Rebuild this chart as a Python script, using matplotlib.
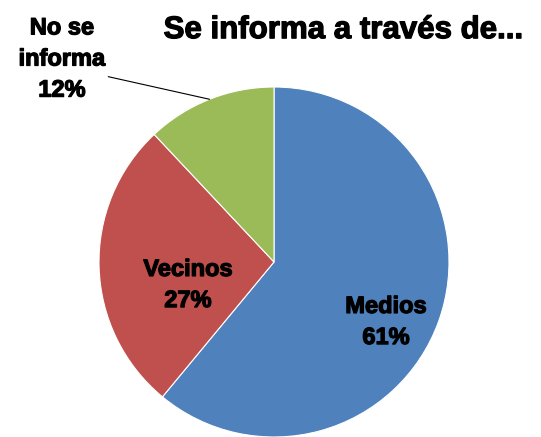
import numpy as np
import matplotlib.pyplot as plt
import matplotlib.patheffects as pe

# Datos del gráfico
categorias = ['Medios', 'Vecinos', 'No se\ninforma']
valores = [61, 27, 12]
colores = ['#4F81BD', '#C0504D', '#9BBB59']

plt.rcParams['font.family'] = ['Liberation Sans', 'DejaVu Sans']

fig = plt.figure(figsize=(5.41, 4.37), dpi=100)
ax = fig.add_axes([0, 0, 1, 1])

centro = (274, 175)
radio = 175
wedges, _ = ax.pie(valores, colors=colores, startangle=90, counterclock=False,
                   center=centro, radius=radio,
                   wedgeprops=dict(edgecolor='white', linewidth=0.8))
ax.set_xlim(0, 541)
ax.set_ylim(0, 437)
ax.set_aspect('equal')
ax.axis('off')

grueso = [pe.withStroke(linewidth=0.9, foreground='black')]
estilo = dict(fontsize=17, fontweight='bold', ha='center', va='center',
              linespacing=1.45, color='black', path_effects=grueso)

# Etiquetas dentro de las porciones
pos_etiquetas = [(386, 115), (188, 152)]
for cat, v, (x, y) in zip(categorias[:2], valores[:2], pos_etiquetas):
    ax.text(x, y, f'{cat}\n{v}%', **estilo)

# Etiqueta externa con línea guía
w = wedges[2]
ang = np.deg2rad((w.theta1 + w.theta2) / 2)
punto = (centro[0] + radio * np.cos(ang), centro[1] + radio * np.sin(ang))
ax.annotate(f'{categorias[2]}\n{valores[2]}%', xy=punto, xytext=(62, 378),
            arrowprops=dict(arrowstyle='-', color='black', lw=0.8,
                            relpos=(1.0, 0.3), shrinkA=0, shrinkB=0),
            **estilo)

fig.text(0.635, 0.931, 'Se informa a través de...', fontsize=22.5,
         fontweight='bold', ha='center', va='center', path_effects=grueso)

plt.savefig('out.png', dpi=100)
